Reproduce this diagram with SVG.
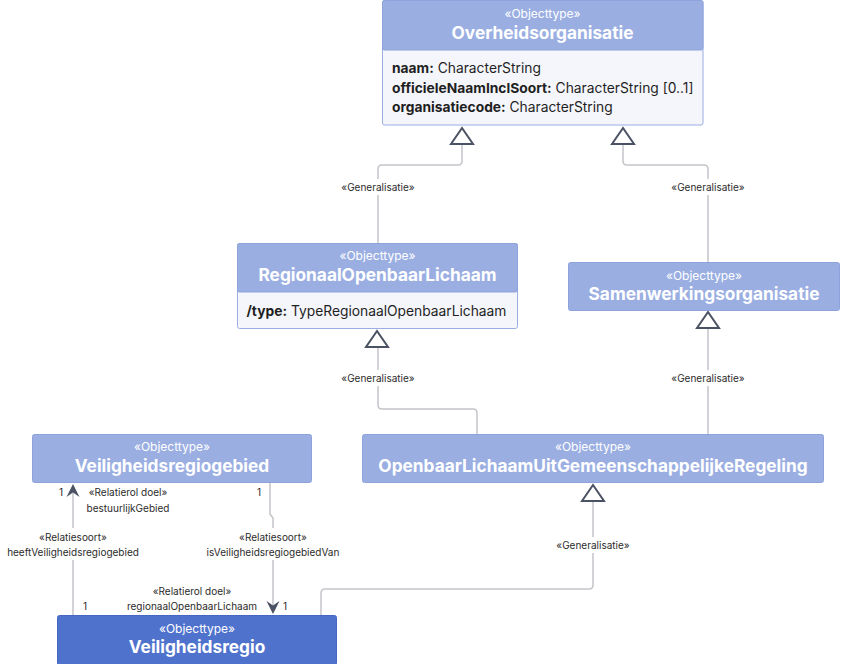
<svg xmlns="http://www.w3.org/2000/svg" width="848" height="664" viewBox="0 0 848 664">
<style>
.hdr{fill:#9aaee2;stroke:#8ea3dc;stroke-width:1}
.hdr2{fill:#4f72cd;stroke:#4566c4;stroke-width:1}
.body{fill:#f5f6fb;stroke:#9aaee2;stroke-width:1}
.st{font-family:Inter,"Liberation Sans",sans-serif;font-size:12px;fill:#ffffff;text-anchor:middle}
.nm{font-family:Inter,"Liberation Sans",sans-serif;font-size:17.3px;font-weight:700;fill:#ffffff;text-anchor:middle}
.at{font-family:Inter,"Liberation Sans",sans-serif;font-size:13.8px;fill:#1f1f1f}
.at tspan.b{font-weight:700}
.ln{fill:none;stroke:#c4c4ca;stroke-width:1.5}
.tri{fill:#ffffff;stroke:#4b5263;stroke-width:2;stroke-linejoin:miter}
.lb{font-family:Inter,"Liberation Sans",sans-serif;font-size:10px;fill:#2b2b2b;text-anchor:middle}
.bg{fill:#ffffff}
.ar{fill:#4b5263}
</style>
<g id="connectors">
  <path class="ln" d="M378,243 V169 Q378,165 382,165 H458 Q462,165 462,161 V144"/>
  <path class="ln" d="M708,262 V169 Q708,165 704,165 H627 Q623,165 623,161 V144"/>
  <path class="ln" d="M477,434 V413 Q477,409 473,409 H382 Q378,409 378,405 V348"/>
  <path class="ln" d="M708,434 V329"/>
  <path class="ln" d="M321,615 V593 Q321,589 325,589 H589 Q593,589 593,585 V501"/>
  <path class="ln" d="M73,615 V486"/>
  <path class="ln" d="M270,482 V514 L273,518 V612"/>
  <polygon class="tri" points="462,128 451,144 473,144"/>
  <polygon class="tri" points="623,128 612,144 634,144"/>
  <polygon class="tri" points="377,331 366,347 388,347"/>
  <polygon class="tri" points="708,312 697,328 719,328"/>
  <polygon class="tri" points="593,485 582,501 604,501"/>
  <path class="ar" d="M73,484 L79.5,497 L73,492.5 L66.5,497 Z"/>
  <path class="ar" d="M273,614 L279.5,601 L273,605.5 L266.5,601 Z"/>
  <rect class="bg" x="340" y="179" width="76" height="16"/>
  <text class="lb" x="378" y="190.5">«Generalisatie»</text>
  <rect class="bg" x="670" y="179" width="76" height="16"/>
  <text class="lb" x="708" y="190.5">«Generalisatie»</text>
  <rect class="bg" x="340" y="370" width="76" height="16"/>
  <text class="lb" x="378" y="381.5">«Generalisatie»</text>
  <rect class="bg" x="670" y="370" width="76" height="16"/>
  <text class="lb" x="708" y="381.5">«Generalisatie»</text>
  <rect class="bg" x="555" y="537" width="76" height="16"/>
  <text class="lb" x="593" y="548.5">«Generalisatie»</text>
  <text class="lb" x="61" y="495.5">1</text>
  <text class="lb" x="128" y="495.5">«Relatierol doel»</text>
  <text class="lb" x="128" y="512">bestuurlijkGebied</text>
  <rect class="bg" x="8" y="528" width="130" height="32"/>
  <text class="lb" x="73" y="540.5">«Relatiesoort»</text>
  <text class="lb" x="73" y="556">heeftVeiligheidsregiogebied</text>
  <text class="lb" x="85" y="610">1</text>
  <text class="lb" x="259" y="495.5">1</text>
  <rect class="bg" x="206" y="528" width="134" height="32"/>
  <text class="lb" x="273" y="540.5">«Relatiesoort»</text>
  <text class="lb" x="273" y="556">isVeiligheidsregiogebiedVan</text>
  <text class="lb" x="192" y="594.5">«Relatierol doel»</text>
  <text class="lb" x="192" y="610">regionaalOpenbaarLichaam</text>
  <text class="lb" x="285" y="610">1</text>
</g>
<g id="Overheidsorganisatie">
  <rect class="body" x="382.5" y="0.5" width="320.5" height="124.5" rx="2"/>
  <rect class="hdr" x="382.5" y="0.5" width="320.5" height="49.5" rx="2"/>
  <text class="st" x="542.5" y="18">«Objecttype»</text>
  <text class="nm" x="542.5" y="38.5">Overheidsorganisatie</text>
  <text class="at" x="392" y="72.5"><tspan class="b">naam:</tspan> CharacterString</text>
  <text class="at" x="392" y="92.5"><tspan class="b">officieleNaamInclSoort:</tspan> CharacterString [0..1]</text>
  <text class="at" x="392" y="112"><tspan class="b">organisatiecode:</tspan> CharacterString</text>
</g>
<g id="RegionaalOpenbaarLichaam">
  <rect class="body" x="237.5" y="243.5" width="280" height="85" rx="2"/>
  <rect class="hdr" x="237.5" y="243.5" width="280" height="48.5" rx="2"/>
  <text class="st" x="377.5" y="260">«Objecttype»</text>
  <text class="nm" x="377.5" y="281">RegionaalOpenbaarLichaam</text>
  <text class="at" x="246.5" y="316"><tspan class="b">/type:</tspan> TypeRegionaalOpenbaarLichaam</text>
</g>
<g id="Samenwerkingsorganisatie">
  <rect class="hdr" x="568.5" y="262.5" width="271" height="48" rx="2"/>
  <text class="st" x="704" y="280">«Objecttype»</text>
  <text class="nm" x="704" y="300">Samenwerkingsorganisatie</text>
</g>
<g id="Veiligheidsregiogebied">
  <rect class="hdr" x="32.5" y="434.5" width="279" height="48" rx="2"/>
  <text class="st" x="172" y="451">«Objecttype»</text>
  <text class="nm" x="172" y="472">Veiligheidsregiogebied</text>
</g>
<g id="OpenbaarLichaamUitGemeenschappelijkeRegeling">
  <rect class="hdr" x="362.5" y="434.5" width="461" height="48" rx="2"/>
  <text class="st" x="593" y="451">«Objecttype»</text>
  <text class="nm" x="593" y="472">OpenbaarLichaamUitGemeenschappelijkeRegeling</text>
</g>
<g id="Veiligheidsregio">
  <rect class="hdr2" x="57.5" y="615.5" width="279" height="50" rx="2"/>
  <text class="st" x="197" y="633">«Objecttype»</text>
  <text class="nm" x="197" y="653">Veiligheidsregio</text>
</g>
</svg>
